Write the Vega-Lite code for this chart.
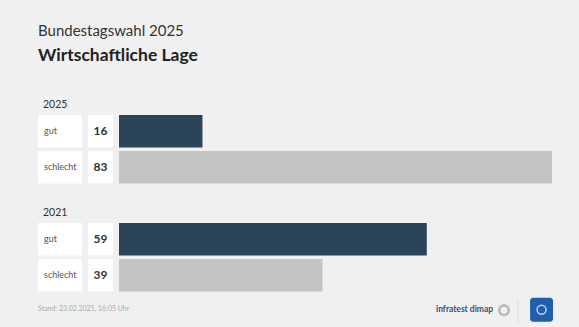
{
  "$schema": "https://vega.github.io/schema/vega-lite/v6.json",
  "background": "#f0f0f0",
  "padding": {"left": 38, "top": 24, "right": 27, "bottom": 0},
  "bounds": "flush",
  "config": {"view": {"stroke": null}, "font": "Lato"},
  "title": {
    "text": "Bundestagswahl 2025",
    "subtitle": "Wirtschaftliche Lage",
    "anchor": "start",
    "font": "Lato",
    "fontSize": 15,
    "fontWeight": "normal",
    "color": "#333333",
    "subtitleFont": "Lato",
    "subtitleFontSize": 17.5,
    "subtitleFontWeight": "bold",
    "subtitleColor": "#222222",
    "subtitlePadding": 8,
    "offset": 14
  },
  "datasets": {
    "bars": [
      {"row": "2025 gut", "bewertung": "gut", "wert": 16},
      {"row": "2025 schlecht", "bewertung": "schlecht", "wert": 83},
      {"row": "2021 gut", "bewertung": "gut", "wert": 59},
      {"row": "2021 schlecht", "bewertung": "schlecht", "wert": 39}
    ],
    "headers": [
      {"row": "2025", "text": "2025"},
      {"row": "2021", "text": "2021"}
    ],
    "footer": [
      {"row": "Fußzeile", "text": "Stand: 23.02.2025, 16:05 Uhr", "quelle": "infratest dimap"}
    ]
  },
  "spacing": 6,
  "resolve": {"scale": {"y": "shared"}},
  "hconcat": [
    {
      "width": 44,
      "height": 248.4,
      "layer": [
        {
          "data": {"name": "bars"},
          "mark": {"type": "rect", "fill": "#ffffff"},
          "encoding": {
            "y": {"field": "row", "type": "nominal", "scale": {"type": "band", "domain": ["2025", "2025 gut", "2025 schlecht", "2021", "2021 gut", "2021 schlecht", "Fußzeile"], "paddingInner": 0.1, "paddingOuter": 0}, "axis": null}
          }
        },
        {
          "data": {"name": "bars"},
          "mark": {"type": "text", "align": "left", "baseline": "middle", "dx": 6, "fontSize": 9, "color": "#555555"},
          "encoding": {
            "y": {"field": "row", "type": "nominal", "axis": null},
            "x": {"value": 0},
            "text": {"field": "bewertung"}
          }
        },
        {
          "data": {"name": "headers"},
          "mark": {"type": "text", "align": "left", "baseline": "alphabetic", "dx": 5, "dy": 13, "fontSize": 10.5, "color": "#333333"},
          "encoding": {
            "y": {"field": "row", "type": "nominal", "axis": null},
            "x": {"value": 0},
            "text": {"field": "text"}
          }
        },
        {
          "data": {"name": "footer"},
          "mark": {"type": "text", "align": "left", "baseline": "middle", "dy": -2, "fontSize": 7, "color": "#aaaaaa"},
          "encoding": {
            "y": {"field": "row", "type": "nominal", "axis": null},
            "x": {"value": 0},
            "text": {"field": "text"}
          }
        }
      ]
    },
    {
      "width": 25,
      "height": 248.4,
      "layer": [
        {
          "data": {"name": "bars"},
          "mark": {"type": "rect", "fill": "#ffffff"},
          "encoding": {
            "y": {"field": "row", "type": "nominal", "axis": null}
          }
        },
        {
          "data": {"name": "bars"},
          "mark": {"type": "text", "align": "center", "baseline": "middle", "fontSize": 12, "fontWeight": "bold", "color": "#333333"},
          "encoding": {
            "y": {"field": "row", "type": "nominal", "axis": null},
            "text": {"field": "wert", "type": "quantitative"}
          }
        }
      ]
    },
    {
      "width": 433,
      "height": 248.4,
      "layer": [
        {
          "data": {"name": "bars"},
          "mark": {"type": "bar"},
          "encoding": {
            "y": {"field": "row", "type": "nominal", "axis": null},
            "x": {"field": "wert", "type": "quantitative", "scale": {"domain": [0, 83], "nice": false, "zero": true}, "axis": null},
            "color": {"field": "bewertung", "type": "nominal", "scale": {"domain": ["gut", "schlecht"], "range": ["#2b4457", "#c4c4c3"]}, "legend": null}
          }
        },
        {
          "data": {"name": "footer"},
          "mark": {"type": "text", "align": "right", "baseline": "middle", "dy": -2, "fontSize": 8.5, "fontWeight": "bold", "color": "#3d4f6e"},
          "encoding": {
            "y": {"field": "row", "type": "nominal", "axis": null},
            "x": {"datum": 71.7, "type": "quantitative"},
            "text": {"field": "quelle"}
          }
        },
        {
          "data": {"name": "footer"},
          "mark": {"type": "point", "shape": "circle", "filled": false, "stroke": "#a0a0a0", "strokeWidth": 2.5, "size": 90, "yOffset": -1},
          "encoding": {
            "y": {"field": "row", "type": "nominal", "axis": null},
            "x": {"datum": 73.8, "type": "quantitative"}
          }
        },
        {
          "data": {"name": "footer"},
          "mark": {"type": "tick", "color": "#d0d0d0", "thickness": 1, "size": 22},
          "encoding": {
            "y": {"field": "row", "type": "nominal", "axis": null},
            "x": {"datum": 76.5, "type": "quantitative"}
          }
        },
        {
          "data": {"name": "footer"},
          "mark": {"type": "bar", "color": "#1f5fae", "cornerRadius": 3, "height": 24, "yOffset": -1.5},
          "encoding": {
            "y": {"field": "row", "type": "nominal", "axis": null},
            "x": {"datum": 78.8, "type": "quantitative"},
            "x2": {"datum": 83.2}
          }
        },
        {
          "data": {"name": "footer"},
          "mark": {"type": "point", "shape": "circle", "filled": false, "stroke": "#ffffff", "strokeWidth": 1.5, "size": 80, "yOffset": -1.5},
          "encoding": {
            "y": {"field": "row", "type": "nominal", "axis": null},
            "x": {"datum": 81.0, "type": "quantitative"}
          }
        }
      ]
    }
  ]
}
